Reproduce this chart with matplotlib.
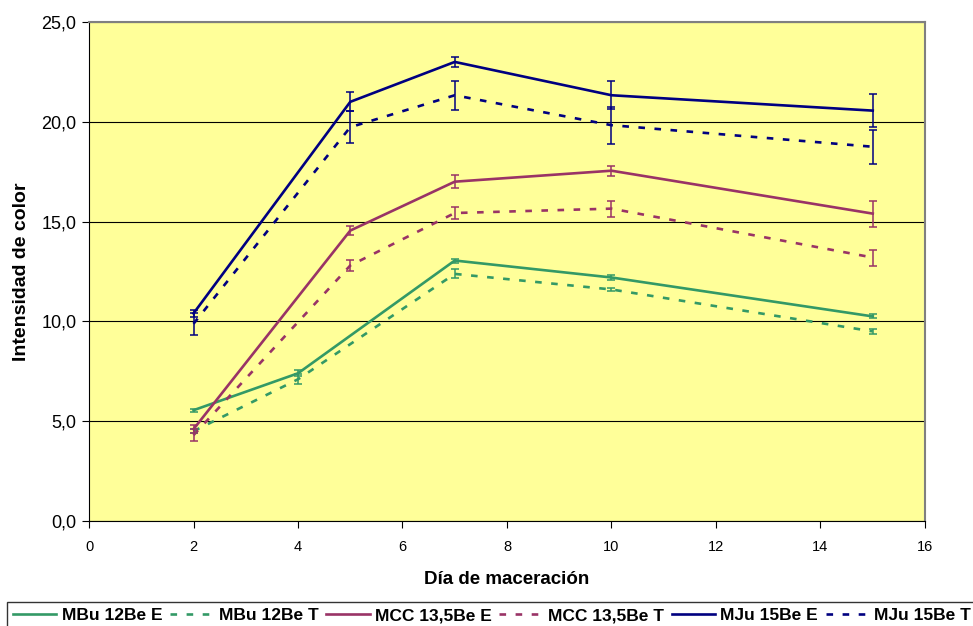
import matplotlib
matplotlib.use("Agg")
import matplotlib.pyplot as plt
from matplotlib.ticker import FuncFormatter, MultipleLocator

plt.rcParams['font.family'] = ['Liberation Sans', 'DejaVu Sans']

# Maceration days
dias = [2, 4, 7, 10, 15]
dias_mcc = [2, 5, 7, 10, 15]

# Colour intensity (mean) and error for each must
mbu_e = [5.55, 7.4, 13.05, 12.2, 10.25]
mbu_e_err = [0.08, 0.15, 0.1, 0.12, 0.1]
mbu_t = [4.5, 7.1, 12.38, 11.6, 9.5]
mbu_t_err = [0.1, 0.25, 0.23, 0.06, 0.14]

mcc_e = [4.6, 14.55, 17.0, 17.55, 15.4]
mcc_e_err = [0.2, 0.23, 0.33, 0.25, 0.65]
mcc_t = [4.3, 12.8, 15.43, 15.65, 13.2]
mcc_t_err = [0.3, 0.28, 0.32, 0.4, 0.4]

mju_e = [10.4, 21.0, 23.0, 21.33, 20.56]
mju_e_err = [0.17, 0.48, 0.27, 0.7, 0.81]
mju_t = [9.88, 19.73, 21.33, 19.83, 18.75]
mju_t_err = [0.56, 0.81, 0.73, 0.93, 0.84]

labels = ["MBu 12Be E", "MBu 12Be T", "MCC 13,5Be E",
          "MCC 13,5Be T", "MJu 15Be E", "MJu 15Be T"]

verde = "#339966"
morado = "#993366"
azul = "#000080"

series = [
    (dias, mbu_e, mbu_e_err, verde, False),
    (dias, mbu_t, mbu_t_err, verde, True),
    (dias_mcc, mcc_e, mcc_e_err, morado, False),
    (dias_mcc, mcc_t, mcc_t_err, morado, True),
    (dias_mcc, mju_e, mju_e_err, azul, False),
    (dias_mcc, mju_t, mju_t_err, azul, True),
]

fig = plt.figure(figsize=(9.73, 6.26), dpi=100)
ax = fig.add_axes([89 / 973, 1 - 521 / 626, (925 - 89) / 973, (521 - 22) / 626])
ax.set_facecolor("#FFFF99")

for (x, y, e, c, dashed), lab in zip(series, labels):
    ls = (0, (2.5, 3.6)) if dashed else "-"
    ax.plot(x, y, color=c, lw=1.9, linestyle=ls, label=lab, zorder=3)
    ax.errorbar(x, y, yerr=e, fmt="none", ecolor=c, elinewidth=1.1,
                capsize=3.2, capthick=1.1, zorder=4)

ax.set_xlim(0, 16)
ax.set_ylim(0, 25)
ax.xaxis.set_major_locator(MultipleLocator(2))
ax.yaxis.set_major_locator(MultipleLocator(5))
ax.yaxis.set_major_formatter(FuncFormatter(lambda v, p: f"{v:.1f}".replace(".", ",")))
ax.yaxis.grid(True, color="black", lw=0.8, zorder=1)
ax.set_axisbelow(True)

for s in ["top", "right"]:
    ax.spines[s].set_color("#808080")
    ax.spines[s].set_linewidth(1.5)
ax.spines["left"].set_color("black")
ax.spines["bottom"].set_color("black")
ax.tick_params(direction="out", length=5, width=0.8, colors="black")
ax.tick_params(axis="x", labelsize=10.5, pad=9)
ax.tick_params(axis="y", labelsize=13, pad=4)

ax.set_xlabel("Día de maceración", fontsize=13.5, fontweight="bold", labelpad=12)
ax.set_ylabel("Intensidad de color", fontsize=14, fontweight="bold", labelpad=8)

handles, labs = ax.get_legend_handles_labels()
leg = fig.legend(handles, labs, ncol=6, loc="upper left",
                 bbox_to_anchor=(7 / 973, 1 - 602 / 626),
                 frameon=True, fancybox=False, edgecolor="black",
                 prop={"weight": "bold", "size": 12.5},
                 handlelength=2.5, handletextpad=0.3, columnspacing=0.45,
                 borderpad=0.35, borderaxespad=0)
leg.get_frame().set_linewidth(1.0)

fig.savefig("out.png", dpi=100)
